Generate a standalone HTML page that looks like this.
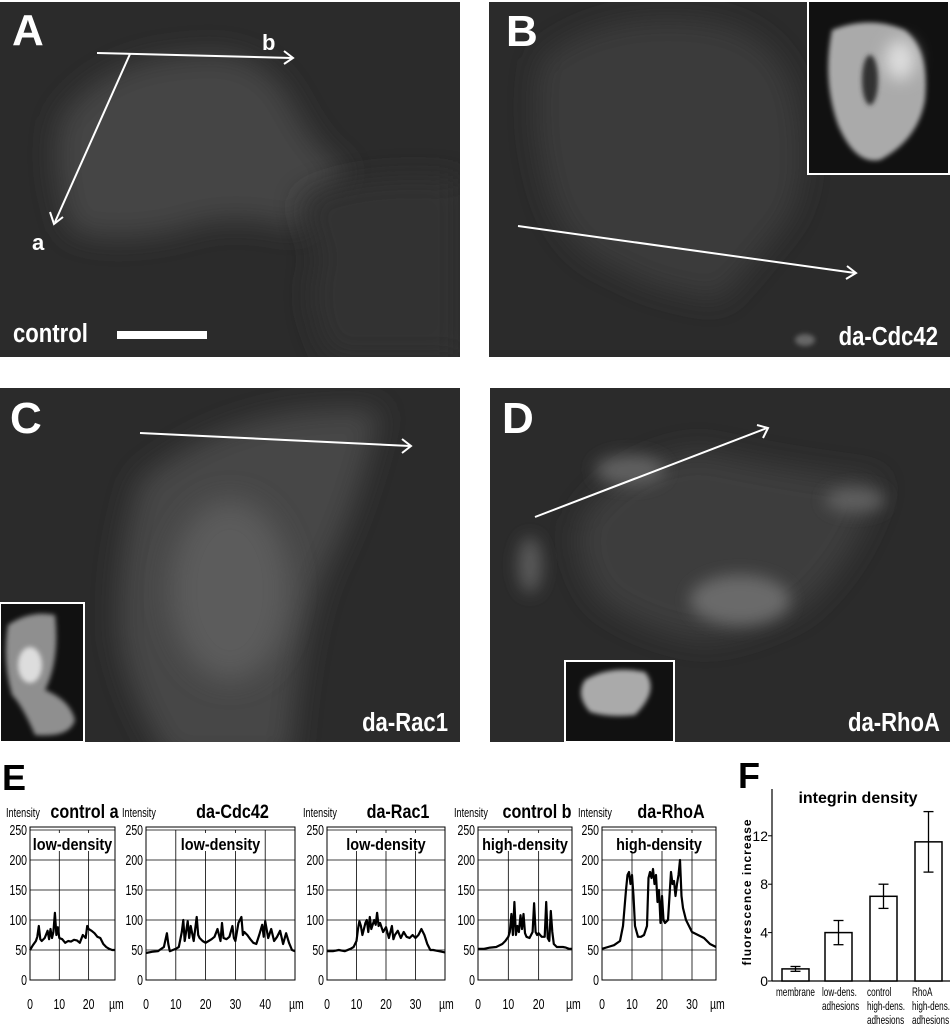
<!DOCTYPE html>
<html><head><meta charset="utf-8">
<style>
body{margin:0;background:#fff;width:950px;height:1030px;overflow:hidden;font-family:"Liberation Sans",sans-serif}
svg{display:block}
</style></head>
<body>
<svg id="fig" width="950" height="1030" viewBox="0 0 950 1030" xmlns="http://www.w3.org/2000/svg">
<defs>
<filter id="blur8" x="-100%" y="-100%" width="300%" height="300%"><feGaussianBlur stdDeviation="8"/></filter>
<filter id="blur14" x="-100%" y="-100%" width="300%" height="300%"><feGaussianBlur stdDeviation="14"/></filter>
<filter id="blur3" x="-100%" y="-100%" width="300%" height="300%"><feGaussianBlur stdDeviation="2.5"/></filter>
<clipPath id="clipA"><rect x="0" y="2" width="460" height="355"/></clipPath>
<clipPath id="clipB"><rect x="489" y="2" width="461" height="355"/></clipPath>
<clipPath id="clipC"><rect x="0" y="388" width="460" height="354"/></clipPath>
<clipPath id="clipD"><rect x="490" y="388" width="460" height="354"/></clipPath>
<clipPath id="clipIB"><rect x="808" y="1" width="141" height="173"/></clipPath>
<clipPath id="clipIC"><rect x="0" y="603" width="84" height="139"/></clipPath>
<clipPath id="clipID"><rect x="565" y="661" width="109" height="81"/></clipPath>
</defs>

<g>
<rect x="0" y="2" width="460" height="355" fill="#2b2b2b"/>
<g clip-path="url(#clipA)">
<path d="M60 120 Q100 60 190 55 Q260 45 290 100 Q320 160 350 170 Q320 200 300 230 Q230 210 180 230 Q110 245 70 230 Q50 170 60 120Z" fill="#444" filter="url(#blur14)"/>
<path d="M300 200 Q360 170 460 180 L460 357 L330 357 Q300 300 320 260Z" fill="#333" filter="url(#blur14)"/>
</g>
<text x="12" y="45" font-size="44" font-weight="bold" fill="#fff">A</text>
<line x1="97" y1="53" x2="292" y2="58" stroke="#fff" stroke-width="2"/>
<polyline points="284,51 293,58 284,64" fill="none" stroke="#fff" stroke-width="2"/>
<line x1="130" y1="54" x2="55" y2="222" stroke="#fff" stroke-width="2"/>
<polyline points="50,212 54,224 63,217" fill="none" stroke="#fff" stroke-width="2"/>
<text x="262" y="50" font-size="22" font-weight="bold" fill="#fff">b</text>
<text x="32" y="250" font-size="22" font-weight="bold" fill="#fff">a</text>
<text x="13" y="342" font-size="26" font-weight="bold" fill="#fff" transform="scale(0.85 1)" transform-origin="13 342">control</text>
<rect x="117" y="331" width="90" height="8" fill="#fff"/>
</g>

<g>
<rect x="489" y="2" width="461" height="355" fill="#2b2b2b"/>
<g clip-path="url(#clipB)">
<path d="M540 60 Q600 10 700 20 Q790 30 800 120 Q810 200 780 230 Q740 280 720 300 Q650 290 620 270 Q560 250 545 180 Q530 120 540 60Z" fill="#3a3a3a" filter="url(#blur14)"/>
<ellipse cx="805" cy="340" rx="10" ry="6" fill="#666" filter="url(#blur3)"/>
</g>
<text x="506" y="46" font-size="44" font-weight="bold" fill="#fff">B</text>
<rect x="808" y="1" width="141" height="173" fill="#111" stroke="#fff" stroke-width="2"/>
<g clip-path="url(#clipIB)">
<path d="M832 30 Q870 15 905 30 Q930 50 925 100 Q918 140 880 160 Q855 165 838 125 Q822 80 832 30Z" fill="#aaa" filter="url(#blur3)"/>
<ellipse cx="900" cy="60" rx="15" ry="20" fill="#ddd" filter="url(#blur8)"/>
<ellipse cx="870" cy="80" rx="8" ry="25" fill="#333" filter="url(#blur3)"/>
</g>
<line x1="518" y1="226" x2="855" y2="273" stroke="#fff" stroke-width="2"/>
<polyline points="847,266 856,273 846,279" fill="none" stroke="#fff" stroke-width="2"/>
<text x="938" y="345" font-size="26" font-weight="bold" fill="#fff" text-anchor="end" transform="scale(0.85 1)" transform-origin="938 345">da-Cdc42</text>
</g>

<g>
<rect x="0" y="388" width="460" height="354" fill="#2b2b2b"/>
<g clip-path="url(#clipC)">
<path d="M140 480 Q240 400 380 410 Q360 500 330 560 Q300 620 290 760 L170 760 Q130 700 120 640 Q115 560 140 480Z" fill="#464646" filter="url(#blur14)"/>
<ellipse cx="230" cy="590" rx="60" ry="90" fill="#5c5c5c" filter="url(#blur14)"/>
</g>
<text x="10" y="433" font-size="44" font-weight="bold" fill="#fff">C</text>
<line x1="140" y1="433" x2="410" y2="446" stroke="#fff" stroke-width="2"/>
<polyline points="402,439 411,446 402,453" fill="none" stroke="#fff" stroke-width="2"/>
<rect x="0" y="603" width="84" height="139" fill="#111" stroke="#fff" stroke-width="2"/>
<g clip-path="url(#clipIC)">
<path d="M8 625 Q30 610 55 615 Q60 660 45 690 Q70 700 75 720 Q70 738 35 735 Q22 705 12 695 Q2 660 8 625Z" fill="#8f8f8f" filter="url(#blur3)"/>
<ellipse cx="30" cy="665" rx="12" ry="18" fill="#ddd" filter="url(#blur3)"/>
</g>
<text x="448" y="731" font-size="26" font-weight="bold" fill="#fff" text-anchor="end" transform="scale(0.85 1)" transform-origin="448 731">da-Rac1</text>
</g>

<g>
<rect x="490" y="388" width="460" height="354" fill="#2b2b2b"/>
<g clip-path="url(#clipD)">
<path d="M580 520 Q620 460 700 450 Q790 470 880 480 Q860 560 800 610 Q740 640 700 640 Q640 630 600 600 Q570 560 580 520Z" fill="#3e3e3e" filter="url(#blur14)"/>
<ellipse cx="740" cy="600" rx="50" ry="25" fill="#6a6a6a" filter="url(#blur8)"/>
<ellipse cx="630" cy="470" rx="35" ry="15" fill="#606060" filter="url(#blur8)"/>
<ellipse cx="855" cy="500" rx="30" ry="12" fill="#606060" filter="url(#blur8)"/>
<ellipse cx="530" cy="565" rx="12" ry="28" fill="#5a5a5a" filter="url(#blur8)"/>
</g>
<text x="502" y="433" font-size="44" font-weight="bold" fill="#fff">D</text>
<line x1="535" y1="517" x2="767" y2="428" stroke="#fff" stroke-width="2"/>
<polyline points="757,425 768,428 763,438" fill="none" stroke="#fff" stroke-width="2"/>
<rect x="565" y="661" width="109" height="81" fill="#111" stroke="#fff" stroke-width="2"/>
<g clip-path="url(#clipID)">
<path d="M585 680 Q610 665 645 672 Q660 690 635 715 Q610 718 590 712 Q575 695 585 680Z" fill="#aaa" filter="url(#blur3)"/>
</g>
<text x="940" y="731" font-size="26" font-weight="bold" fill="#fff" text-anchor="end" transform="scale(0.85 1)" transform-origin="940 731">da-RhoA</text>
</g>

<text x="2" y="790" font-size="36" font-weight="bold" fill="#000">E</text>
<text x="738" y="788" font-size="36" font-weight="bold" fill="#000">F</text>
<g id="charts"></g>
<g id="barchart"></g>
</svg>
<script>
const titles = ["control a","da-Cdc42","da-Rac1","control b","da-RhoA"];
const densityLabels = ["low-density","low-density","low-density","high-density","high-density"];
const yTicks = [0,50,100,150,200,250];
const xMaxes = [29,50,40,31,38];
const xTickSets = [[0,10,20],[0,10,20,30,40],[0,10,20,30],[0,10,20],[0,10,20,30]];
const profX0 = [0,1,2,2.5,3,3.5,4,5,6,6.5,7,7.5,8,8.5,9,9.5,10,11,12,13,14,15,16,17,18,19,19.5,20,21,22,23,24,25,26,27,28,29];
const profY0 = [50,58,65,72,90,68,65,70,82,68,85,70,80,112,75,88,70,68,62,65,64,67,66,62,75,70,90,85,82,78,72,70,60,55,52,50,50];
const profX1 = [0,2,4,6,7,7.5,8,9,10,11,12,12.5,13,14,14.5,15,16,17,17.5,18,19,20,21,22,23,24,25,25.5,26,27,28,29,29.5,30,31,32,32.5,33,34,35,36,37,38,39,39.5,40,41,42,43,44,45,46,47,48,49,50];
const profY1 = [45,47,48,55,78,60,48,50,52,55,80,100,65,98,70,90,65,105,75,70,65,62,65,68,72,85,65,95,70,68,72,90,70,65,95,105,75,80,75,68,62,60,75,92,72,98,70,85,65,72,82,60,78,62,50,48,45];
const profX2 = [0,2,4,6,8,9,10,10.5,11,11.5,12,13,13.5,14,14.5,15,16,16.5,17,17.5,18,19,20,21,22,22.5,23,24,25,26,27,28,29,30,31,32,33,34,35,36,38,40];
const profY2 = [48,48,50,48,52,55,65,85,98,90,75,95,100,80,105,85,100,92,112,90,95,80,88,70,90,68,75,82,70,80,72,70,75,70,75,85,75,60,50,50,48,46];
const profX3 = [0,2,4,6,8,9,10,10.5,11,11.5,12,12.5,13,13.5,14,14.5,15,15.5,16,17,18,18.5,19,19.5,20,21,22,22.5,23,23.5,24,24.5,25,26,27,28,29,30,31];
const profY3 = [52,52,54,55,60,65,72,80,110,75,130,75,90,80,108,85,110,78,72,70,80,128,80,75,78,72,72,130,70,65,115,80,60,55,55,55,54,52,52];
const profX4 = [0,2,4,6,7,8,8.5,9,9.5,10,10.5,11,12,13,14,15,15.5,16,16.5,17,17.5,18,18.5,19,19.5,20,20.5,21,22,22.5,23,23.5,24,24.5,25,25.5,26,26.5,27,28,29,30,32,34,36,38];
const profY4 = [52,55,58,65,90,150,175,180,160,175,140,90,72,72,75,90,170,180,170,185,160,175,130,150,95,140,100,95,100,140,180,160,165,140,160,175,200,140,120,100,90,80,75,70,60,55];
const profXs = [profX0,profX1,profX2,profX3,profX4];
const profYs = [profY0,profY1,profY2,profY3,profY4];

const barCats = ["membrane","low-dens.|adhesions","control|high-dens.|adhesions","RhoA|high-dens.|adhesions"];
const barVals = [1,4,7,11.5];
const barErr = [0.2,1,1,2.5];
const barTicks = [0,4,8,12];

const NS="http://www.w3.org/2000/svg";
function mk(tag, attrs, parent, txt){const e=document.createElementNS(NS,tag);for(const k in attrs)e.setAttribute(k,attrs[k]);if(txt!==undefined)e.textContent=txt;parent.appendChild(e);return e;}

const boxes=[[30,115],[146,295],[327,445],[478,572],[602,716]];
const yTop=830, yBot=980;
const charts=document.getElementById('charts');
boxes.forEach((b,i)=>{
  const g=mk('g',{},charts);
  
  
  const [x0,x1]=b;
  const sx=v=>x0+(v/xMaxes[i])*(x1-x0);
  const sy=v=>yBot-(v/250)*(yBot-yTop);
  mk('rect',{x:x0,y:yTop-3,width:x1-x0,height:yBot-yTop+3,fill:'#fff',stroke:'#000','stroke-width':1},g);
  yTicks.forEach(t=>{
    if(t>0) mk('line',{x1:x0,x2:x1,y1:sy(t),y2:sy(t),stroke:'#000','stroke-width':0.8},g);
    const tl=mk('text',{x:x0-3,y:sy(t)+5,'font-size':15,'text-anchor':'end',fill:'#000',transform:`scale(0.7 1)`,'transform-origin':`${x0-3} ${sy(t)}`},g,String(t));
    
    
  });
  xTickSets[i].forEach(t=>{
    if(t>0) mk('line',{x1:sx(t),x2:sx(t),y1:yTop,y2:yBot,stroke:'#000','stroke-width':0.8},g);
    const tl=mk('text',{x:sx(t),y:1009,'font-size':15,'text-anchor':'middle',fill:'#000',transform:`scale(0.7 1)`,'transform-origin':`${sx(t)} 1009`},g,String(t));
    
    
  });
  mk('text',{x:x1-6,y:1009,'font-size':15,fill:'#000',transform:'scale(0.7 1)','transform-origin':`${x1-6} 1009`},g,'µm');
  mk('text',{x:x0-24,y:817,'font-size':13,fill:'#000',transform:'scale(0.7 1)','transform-origin':`${x0-24} 817`},g,'Intensity');
  const tt=mk('text',{x:(x0+x1)/2+12,y:818,'font-size':19,'font-weight':'bold','text-anchor':'middle',fill:'#000',transform:'scale(0.85 1)','transform-origin':`${(x0+x1)/2+12} 818`},g,titles[i]);
  
  
  mk('rect',{x:(x0+x1)/2-38,y:833,width:76,height:18,fill:'#fff'},g);
  mk('text',{x:(x0+x1)/2,y:850,'font-size':17,'font-weight':'bold','text-anchor':'middle',fill:'#000',transform:'scale(0.85 1)','transform-origin':`${(x0+x1)/2} 850`},g,densityLabels[i]);
  const pts=profXs[i].map((x,k)=>sx(x).toFixed(1)+','+sy(profYs[i][k]).toFixed(1)).join(' ');
  const pl=mk('polyline',{points:pts,fill:'none',stroke:'#000','stroke-width':2.2,'stroke-linejoin':'round'},g);
  
  
});

const bc=document.getElementById('barchart');
const ax0=772, by0=981, pxPerUnit=12.1;
const byv=v=>by0-v*pxPerUnit;
const barLefts=[782,825,870,915], bw=27;
mk('line',{x1:ax0,x2:ax0,y1:789,y2:by0,stroke:'#000','stroke-width':1.2},bc);
mk('line',{x1:ax0,x2:950,y1:by0,y2:by0,stroke:'#000','stroke-width':1.2},bc);
barTicks.forEach(t=>{
  mk('line',{x1:ax0-4,x2:ax0,y1:byv(t),y2:byv(t),stroke:'#000'},bc);
  const tl=mk('text',{x:ax0-4,y:byv(t)+5,'font-size':14,'text-anchor':'end',fill:'#000'},bc,String(t));
  
  
});
const yl=mk('text',{x:0,y:0,'font-size':12,'font-weight':'bold','text-anchor':'middle',fill:'#000','letter-spacing':'1',transform:`translate(751 892) rotate(-90)`},bc,'fluorescence increase');


const bt=mk('text',{x:858,y:803,'font-size':16,'font-weight':'bold','text-anchor':'middle',fill:'#000'},bc,'integrin density');


barVals.forEach((v,i)=>{
  const r=mk('rect',{x:barLefts[i],y:byv(v),width:bw,height:by0-byv(v),fill:'#fff',stroke:'#000','stroke-width':1.5},bc);
  
  
  const cx=barLefts[i]+bw/2;
  mk('line',{x1:cx,x2:cx,y1:byv(v+barErr[i]),y2:byv(v-barErr[i]),stroke:'#000','stroke-width':1.3},bc);
  mk('line',{x1:cx-5,x2:cx+5,y1:byv(v+barErr[i]),y2:byv(v+barErr[i]),stroke:'#000','stroke-width':1.3},bc);
  mk('line',{x1:cx-5,x2:cx+5,y1:byv(v-barErr[i]),y2:byv(v-barErr[i]),stroke:'#000','stroke-width':1.3},bc);
  const lx = i===0 ? barLefts[i]-6 : barLefts[i]-3;
  barCats[i].split('|').forEach((ln,j)=>{
    const t=mk('text',{x:lx,y:996+j*14,'font-size':12,fill:'#000',transform:'scale(0.68 1)','transform-origin':`${lx} 996`},bc,ln);
    
    
  });
});
</script>
</body></html>
